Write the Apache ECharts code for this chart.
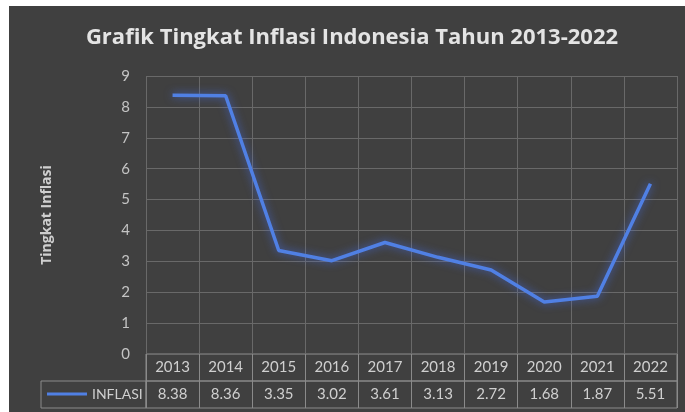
<!DOCTYPE html>
<html><head><meta charset="utf-8">
<script src="https://cdn.jsdelivr.net/npm/echarts@6/dist/echarts.min.js"></script>
<style>
html,body{margin:0;padding:0;background:#fff;width:685px;height:412px;overflow:hidden}
#c{position:absolute;left:9px;top:6px;width:676px;height:406px}
</style>
</head><body><div id="c"></div>
<script>
// ---- data ----
const chartTitle = 'Grafik Tingkat Inflasi Indonesia Tahun 2013-2022';
const yAxisTitle = 'Tingkat Inflasi';
const seriesName = 'INFLASI';
const years = ['2013','2014','2015','2016','2017','2018','2019','2020','2021','2022'];
const inflasi = [8.38, 8.36, 3.35, 3.02, 3.61, 3.13, 2.72, 1.68, 1.87, 5.51];
const yMin = 0, yMax = 9, yStep = 1;

// ---- layout (page px, offset by container position) ----
const OX = 9, OY = 6;
const L = 146 - OX, R = 677 - OX, W = R - L;
const plotTop = 76 - OY, plotBottom = 354 - OY;
const row1Top = 354 - OY, row2Top = 381 - OY, rowBottom = 408 - OY;
const legCellLeft = 41 - OX;

const bg = '#404040';
const gridCol = '#696969';
const tableCol = '#8a8a8a';
const textCol = '#cfcfcf';
const lineCol = '#5080e4';
const font = 'Lato, "Open Sans", sans-serif';
const font2 = '"Open Sans", Lato, sans-serif';

const hiddenVal = (gi) => ({type:'value', gridIndex:gi, show:false});

const chart = echarts.init(document.getElementById('c'), null, {renderer:'canvas'});
chart.setOption({
  backgroundColor: bg,
  animation: false,
  textStyle: {fontFamily: font},
  title: {
    text: chartTitle, left: 352 - OX, top: 21, padding: 0, textAlign: 'center',
    textStyle: {color:'#e4e4e4', fontSize: 22, fontWeight: 'bold', fontFamily: font2}
  },
  legend: {
    data: [{name: seriesName, icon: 'rect'}],
    left: 47 - OX, top: 395 - OY - 8, padding: 0,
    itemWidth: 40, itemHeight: 3, itemGap: 4,
    textStyle: {color: textCol, fontSize: 14, fontFamily: font}
  },
  grid: [
    {left: L, top: plotTop, width: W, height: plotBottom - plotTop, containLabel:false},
    {left: L, top: row1Top, width: W, height: row2Top - row1Top, show:true, borderColor: tableCol, borderWidth:1},
    {left: L, top: row2Top, width: W, height: rowBottom - row2Top, show:true, borderColor: tableCol, borderWidth:1},
    {left: legCellLeft, top: row2Top, width: L - legCellLeft, height: rowBottom - row2Top, show:true, borderColor: tableCol, borderWidth:1}
  ],
  xAxis: [
    {type:'category', gridIndex:0, data: years, boundaryGap:true,
     axisLine:{show:false}, axisTick:{show:false}, axisLabel:{show:false},
     splitLine:{show:true, lineStyle:{color:gridCol, width:1}}},
    {type:'category', gridIndex:1, data: years, boundaryGap:true,
     axisLine:{show:false}, axisTick:{show:false},
     axisLabel:{interval:0, margin: -(row2Top-row1Top)/2, verticalAlign:'middle', color:textCol, fontSize:15, fontFamily:font},
     splitLine:{show:true, lineStyle:{color:tableCol, width:1}}},
    {type:'category', gridIndex:2, data: years, boundaryGap:true,
     axisLine:{show:false}, axisTick:{show:false},
     axisLabel:{interval:0, margin: -(rowBottom-row2Top)/2, verticalAlign:'middle', color:textCol, fontSize:15, fontFamily:font,
       formatter: (v, i) => inflasi[i].toFixed(2)},
     splitLine:{show:true, lineStyle:{color:tableCol, width:1}}},
    {type:'value', gridIndex:3, show:false}
  ],
  yAxis: [
    {type:'value', gridIndex:0, min:yMin, max:yMax, interval:yStep,
     name: yAxisTitle, nameLocation:'middle', nameGap: 92, nameRotate: 90,
     nameTextStyle:{color:textCol, fontSize:14, fontWeight:'bold', fontFamily:font2},
     axisLine:{show:false}, axisTick:{show:false},
     axisLabel:{color:'#c4c4c4', fontSize:15, margin:16, fontFamily:font},
     splitLine:{show:true, lineStyle:{color:gridCol, width:1}}},
    hiddenVal(1), hiddenVal(2), hiddenVal(3)
  ],
  series: [{
    name: seriesName, type:'line', xAxisIndex:0, yAxisIndex:0,
    data: inflasi, symbol:'none', smooth:false,
    itemStyle:{color: lineCol},
    lineStyle:{color: lineCol, width: 3.5, shadowColor:'rgba(70,110,235,0.75)', shadowBlur: 9}
  }]
});
</script>
</body></html>
